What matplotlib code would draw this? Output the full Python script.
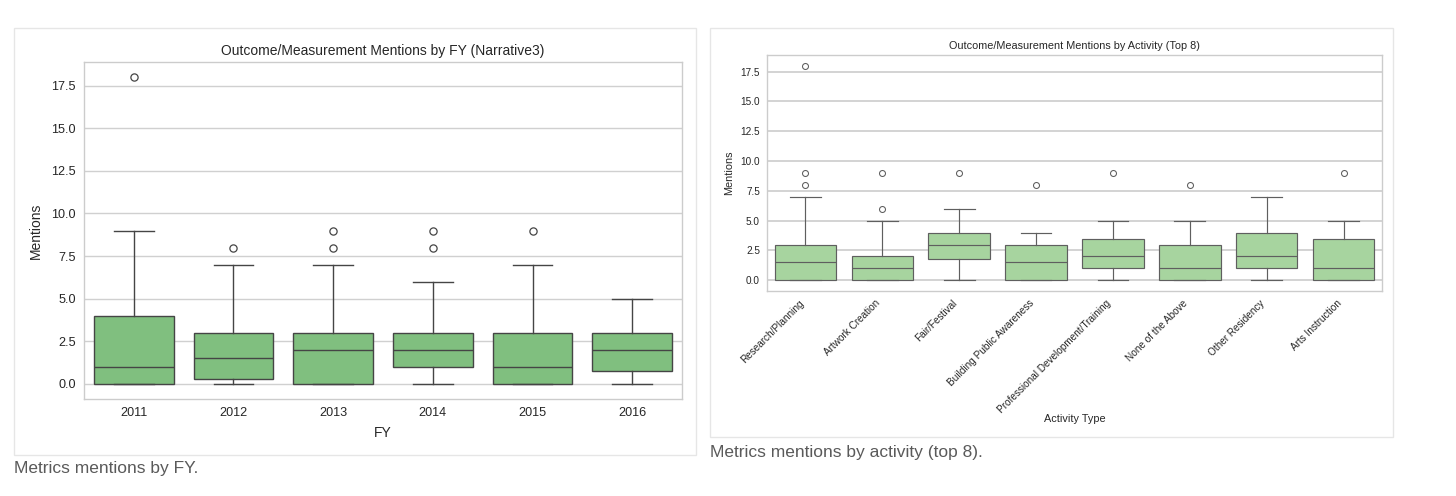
"""
plot.py
=======
Two box-plot panels of outcome/measurement mentions, laid out like two
figure cards on a web page (each with its caption underneath).

Output
------
  out.png  (1456 x 496 px)
"""

import matplotlib
matplotlib.use("Agg")
import matplotlib.pyplot as plt
from matplotlib.patches import Rectangle
from matplotlib.ticker import FormatStrFormatter
import numpy as np


# --------------------------------------------------------------------------
# Data (box statistics)
# --------------------------------------------------------------------------

fy_labels = ["2011", "2012", "2013", "2014", "2015", "2016"]
fy_q1 = [0.0, 0.25, 0.0, 1.0, 0.0, 0.75]
fy_med = [1.0, 1.5, 2.0, 2.0, 1.0, 2.0]
fy_q3 = [4.0, 3.0, 3.0, 3.0, 3.0, 3.0]
fy_whislo = [0.0, 0.0, 0.0, 0.0, 0.0, 0.0]
fy_whishi = [9.0, 7.0, 7.0, 6.0, 7.0, 5.0]
fy_fliers = [[18], [8], [8, 9], [8, 9], [9], []]

act_labels = ["Research/Planning", "Artwork Creation", "Fair/Festival",
              "Building Public Awareness",
              "Professional Development/Training", "None of the Above",
              "Other Residency", "Arts Instruction"]
act_q1 = [0.0, 0.0, 1.75, 0.0, 1.0, 0.0, 1.0, 0.0]
act_med = [1.5, 1.0, 3.0, 1.5, 2.0, 1.0, 2.0, 1.0]
act_q3 = [3.0, 2.0, 4.0, 3.0, 3.5, 3.0, 4.0, 3.5]
act_whislo = [0.0, 0.0, 0.0, 0.0, 0.0, 0.0, 0.0, 0.0]
act_whishi = [7.0, 5.0, 6.0, 4.0, 5.0, 5.0, 7.0, 5.0]
act_fliers = [[8, 9, 18], [6, 9], [9], [8], [9], [8], [], [9]]


W, H = 1456, 496  # figure size in pixels


def px_axes(fig, x0, y0, x1, y1):
    """Add axes from pixel box (top-left origin)."""
    return fig.add_axes([x0 / W, 1 - y1 / H, (x1 - x0) / W, (y1 - y0) / H])


def card(fig, x0, y0, x1, y1):
    # outline only, kept under the axes
    fig.patches.append(Rectangle((x0 / W, 1 - y1 / H), (x1 - x0) / W,
                                 (y1 - y0) / H, transform=fig.transFigure,
                                 facecolor="none", edgecolor="#e6e6e6",
                                 linewidth=1.0, zorder=-1))


def make_stats(labels, q1, med, q3, lo, hi, fliers):
    return [dict(label=l, q1=a, med=m, q3=b, whislo=w0, whishi=w1,
                 fliers=np.asarray(f, dtype=float))
            for l, a, m, b, w0, w1, f in zip(labels, q1, med, q3, lo, hi,
                                              fliers)]


def draw_box(ax, stats, face, edge, lw, msize, fs_tick, grid_lw):
    ax.bxp(stats, positions=range(len(stats)), widths=0.8, capwidths=0.4,
           patch_artist=True,
           boxprops=dict(facecolor=face, edgecolor=edge, linewidth=lw),
           whiskerprops=dict(color=edge, linewidth=lw),
           capprops=dict(color=edge, linewidth=lw),
           medianprops=dict(color=edge, linewidth=lw),
           flierprops=dict(marker="o", markerfacecolor="none",
                           markeredgecolor=edge, markersize=msize,
                           markeredgewidth=lw * 0.9))
    ax.set_xlim(-0.5, len(stats) - 0.5)
    ax.set_ylim(-0.9, 18.9)
    ax.set_yticks(np.arange(0, 18, 2.5))
    ax.yaxis.set_major_formatter(FormatStrFormatter("%.1f"))
    ax.grid(axis="y", color="#d0d0d0", linewidth=grid_lw)
    ax.set_axisbelow(True)
    for sp in ax.spines.values():
        sp.set_color("#cccccc")
        sp.set_linewidth(1.0)
    ax.tick_params(length=0, labelsize=fs_tick, colors="#262626")


def main():
    plt.rcParams["font.family"] = ["Liberation Sans", "DejaVu Sans"]
    fig = plt.figure(figsize=(W / 100, H / 100), dpi=100)

    # --- page cards ---
    card(fig, 14, 28, 696, 455)
    card(fig, 710, 28, 1393, 437)

    # --- left panel: by FY ---
    ax1 = px_axes(fig, 84, 62, 682, 399)
    st1 = make_stats(fy_labels, fy_q1, fy_med, fy_q3, fy_whislo, fy_whishi,
                     fy_fliers)
    draw_box(ax1, st1, "#80bf7f", "#454545", 1.0, 5.2, 9.1, 1.0)
    ax1.tick_params(axis="x", pad=6)
    ax1.tick_params(axis="y", pad=6)
    ax1.set_title("Outcome/Measurement Mentions by FY (Narrative3)",
                  fontsize=10, pad=5, color="#262626")
    ax1.set_xlabel("FY", fontsize=10, color="#262626")
    ax1.set_ylabel("Mentions", fontsize=10, color="#262626")
    ax1.xaxis.set_label_coords(0.5, -0.08)
    ax1.yaxis.set_label_coords(-0.068, 0.5)

    # --- right panel: by activity ---
    ax2 = px_axes(fig, 767, 55, 1382, 291)
    st2 = make_stats(act_labels, act_q1, act_med, act_q3, act_whislo,
                     act_whishi, act_fliers)
    draw_box(ax2, st2, "#a7d49f", "#5f5f5f", 0.85, 4.3, 7.2, 1.3)
    ax2.tick_params(axis="x", pad=5)
    ax2.tick_params(axis="y", pad=5)
    plt.setp(ax2.get_xticklabels(), rotation=45, ha="right")
    ax2.set_title("Outcome/Measurement Mentions by Activity (Top 8)",
                  fontsize=7.8, pad=4, color="#262626")
    ax2.set_xlabel("Activity Type", fontsize=7.8, color="#262626")
    ax2.set_ylabel("Mentions", fontsize=7.8, color="#262626")
    ax2.xaxis.set_label_coords(0.5, -0.52)
    ax2.yaxis.set_label_coords(-0.054, 0.5)

    # --- captions ---
    fig.text(14 / W, 1 - 469 / H, "Metrics mentions by FY.", fontsize=12.5,
             color="#5a5a5a", va="center", ha="left")
    fig.text(710 / W, 1 - 452 / H, "Metrics mentions by activity (top 8).",
             fontsize=12.5, color="#5a5a5a", va="center", ha="left")

    fig.savefig("out.png", dpi=100, facecolor="white")
    plt.close(fig)


if __name__ == "__main__":
    main()
